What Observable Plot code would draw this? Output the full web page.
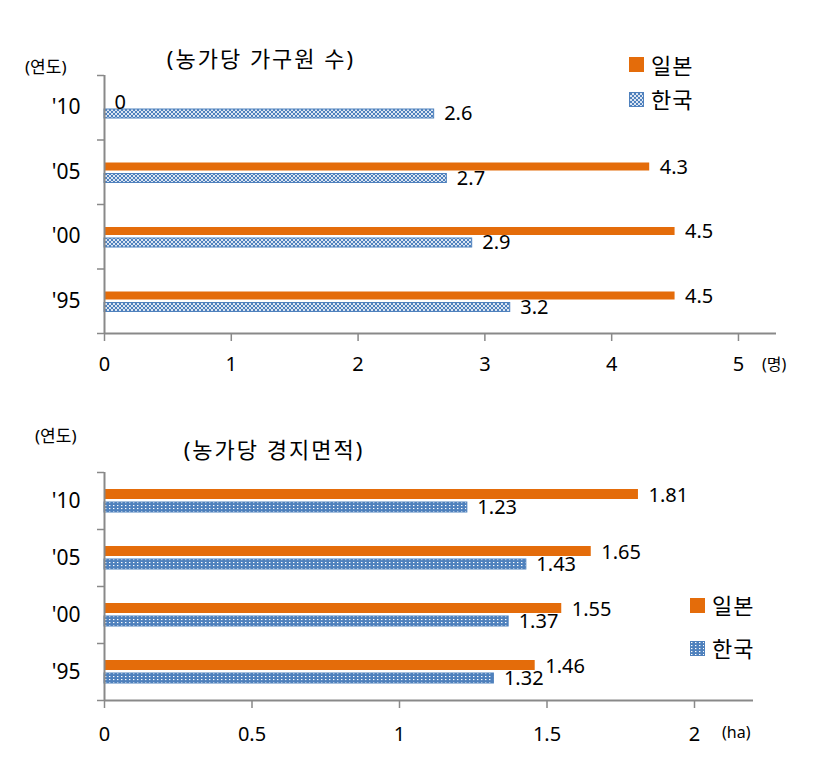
<!DOCTYPE html>
<html><head><meta charset="utf-8">
<script src="https://cdn.jsdelivr.net/npm/d3@7"></script>
<script src="https://cdn.jsdelivr.net/npm/@observablehq/plot@0.6"></script>
<style>
body{margin:0;background:#fff;}
#wrap{position:relative;width:818px;height:772px;font-family:"Noto Sans","Noto Sans CJK KR",sans-serif;color:#000;overflow:hidden;}
.ov{position:absolute;white-space:nowrap;line-height:1.2;}
.chart{position:absolute;left:0;}
</style></head><body>
<div id="wrap"></div>
<script>
// ---- data ----
const years = ["'95", "'00", "'05", "'10"];           // bottom to top
const seriesNames = ["일본", "한국"];
const membersJapan = [4.5, 4.5, 4.3, 0];
const membersKorea = [3.2, 2.9, 2.7, 2.6];
const areaJapan = [1.46, 1.55, 1.65, 1.81];
const areaKorea = [1.32, 1.37, 1.43, 1.23];
const membersTicks = [0, 1, 2, 3, 4, 5];
const areaTicks = [0, 0.5, 1, 1.5, 2];
const titles = ["(농가당 가구원 수)", "(농가당 경지면적)"];
const units = ["(명)", "(ha)"];
const yearLabel = "(연도)";

// ---- styles ----
const ORANGE = "#E46C0A";
const BLUE = "#4F81BD";
const GRAY = "#898989";
const FONT = '"Noto Sans","Noto Sans CJK KR",sans-serif';
const wrap = document.getElementById("wrap");

function makeChart(o) {
  const rows = years.map((y, i) => ({year: y, i, japan: o.japan[i], korea: o.korea[i]}));
  const p = Plot.plot({
    width: 818, height: o.height,
    marginLeft: 104, marginRight: o.marginRight, marginTop: o.marginTop, marginBottom: o.marginBottom,
    style: {fontFamily: FONT, fontSize: "20px", background: "transparent", overflow: "visible", color: "#000"},
    x: {domain: [0, o.xMax]},
    y: {domain: [0, years.length]},
    marks: [
      Plot.rectX(rows.filter(d => d.japan > 0), {x1: 0, x2: "japan", y1: "i", y2: d => d.i + 1,
        fill: ORANGE, insetTop: o.jInset[0], insetBottom: o.jInset[1]}),
      Plot.rectX(rows, {x1: 0, x2: "korea", y1: "i", y2: d => d.i + 1,
        fill: `url(#${o.patternId})`, stroke: BLUE, strokeWidth: 1, insetTop: o.kInset[0], insetBottom: o.kInset[1]}),
      Plot.ruleX([0], {stroke: GRAY, strokeWidth: 2}),
      Plot.ruleY([0], {stroke: GRAY, strokeWidth: 2}),
      Plot.axisY({ticks: d3.range(years.length + 1), tickSize: 7, tickFormat: () => "", label: null,
        stroke: GRAY, strokeWidth: 1.5}),
      Plot.axisY({ticks: years.map((_, i) => i + 0.5), tickSize: 0, tickPadding: 24, label: null,
        tickFormat: v => years[Math.floor(v)], fontSize: 21, fill: "#000"}),
      Plot.axisX({ticks: o.ticks, tickSize: 8, tickPadding: o.tickPadding, tickFormat: d => String(d), label: null,
        stroke: GRAY, strokeWidth: 1.5, fill: "#000", fontSize: 20}),
      Plot.text(rows, {x: "japan", y: d => d.i + 0.5, text: d => String(d.japan), dx: 10, dy: o.labelDy[0],
        textAnchor: "start", fontSize: 20, fill: "#000"}),
      Plot.text(rows, {x: "korea", y: d => d.i + 0.5, text: d => String(d.korea), dx: 10, dy: o.labelDy[1],
        textAnchor: "start", fontSize: 20, fill: "#000"})
    ]
  });
  const defs = d3.select(p).insert("defs", ":first-child");
  const pat = defs.append("pattern").attr("id", o.patternId).attr("patternUnits", "userSpaceOnUse")
    .attr("width", o.pw).attr("height", o.ph);
  pat.append("rect").attr("width", o.pw).attr("height", o.ph).attr("fill", BLUE);
  o.drawPattern(pat);
  p.classList.add("chart");
  p.style.top = o.top + "px";
  wrap.appendChild(p);
}

makeChart({
  japan: membersJapan, korea: membersKorea, ticks: membersTicks, xMax: 5.3,
  top: 0, height: 390, marginTop: 75, marginBottom: 57, marginRight: 42,
  jInset: [23, 33.5], kInset: [34, 21.5], tickPadding: 15, labelDy: [-5, 6],
  patternId: "kDiamond", pw: 4, ph: 4,
  drawPattern: pat => pat.append("path").attr("d", "M0,2L2,0L4,2L2,4Z").attr("fill", "none")
    .attr("stroke", "#fff").attr("stroke-width", 0.8)
});
makeChart({
  japan: areaJapan, korea: areaKorea, ticks: areaTicks, xMax: 2.2,
  top: 390, height: 382, marginTop: 82, marginBottom: 72, marginRight: 65,
  jInset: [17, 30], kInset: [30, 17], tickPadding: 18, labelDy: [-5, 7],
  patternId: "kDots", pw: 4, ph: 3,
  drawPattern: pat => pat.append("rect").attr("x", 1).attr("y", 1).attr("width", 1.4).attr("height", 1.1).attr("fill", "#fff")
});

// ---- overlay texts & legends ----
function ov(text, x, y, size, anchor, spacing) {
  const d = document.createElement("div");
  d.className = "ov";
  d.textContent = text;
  d.style.left = x + "px";
  d.style.top = y + "px";
  d.style.fontSize = size + "px";
  if (spacing) d.style.letterSpacing = spacing + "px";
  d.style.transform = anchor === "middle" ? "translate(-50%,-50%)" : "translateY(-50%)";
  wrap.appendChild(d);
}
function swatch(x, y, fill, patternId) {
  const ns = "http://www.w3.org/2000/svg";
  const s = document.createElementNS(ns, "svg");
  s.setAttribute("width", 15); s.setAttribute("height", 15);
  s.style.position = "absolute"; s.style.left = x + "px"; s.style.top = y + "px";
  const r = document.createElementNS(ns, "rect");
  if (patternId) {
    r.setAttribute("x", 0.5); r.setAttribute("y", 0.5); r.setAttribute("width", 14); r.setAttribute("height", 14);
    r.setAttribute("fill", `url(#${patternId})`); r.setAttribute("stroke", BLUE);
  } else {
    r.setAttribute("width", 15); r.setAttribute("height", 15); r.setAttribute("fill", fill);
  }
  s.appendChild(r);
  wrap.appendChild(s);
}

// top chart
ov(yearLabel, 25, 67, 17);
ov(titles[0], 261, 58, 22, "middle", 2);
ov(units[0], 762, 365, 16);
swatch(629, 57, ORANGE);
ov(seriesNames[0], 651, 65, 22, null, 1);
swatch(629, 92, null, "kDiamond");
ov(seriesNames[1], 651, 99, 22, null, 1);

// bottom chart
ov(yearLabel, 35, 436, 17);
ov(titles[1], 274, 449, 22, "middle", 2);
ov(units[1], 722, 733, 16);
swatch(690, 598, ORANGE);
ov(seriesNames[0], 712, 605, 22, null, 1);
swatch(690, 641, null, "kDots");
ov(seriesNames[1], 712, 648, 22, null, 1);
</script>
</body></html>
